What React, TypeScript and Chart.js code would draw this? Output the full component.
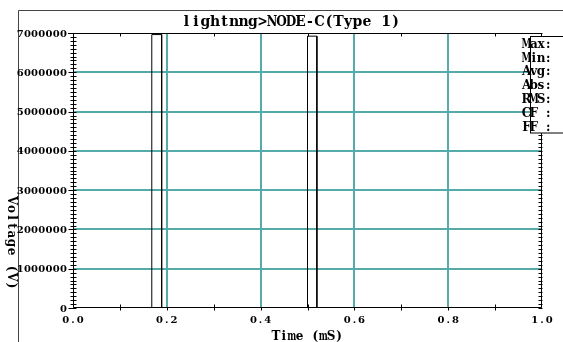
import React, { useEffect, useRef } from "react";
import { Chart, registerables } from "chart.js";

Chart.register(...registerables);

const chartTitle = "lightnng>NODE-C(Type 1)";
const xAxisTitle = "Time (mS)";
const yAxisTitle = "Voltage (V)";
const timeMs = [0, 0.168, 0.168, 0.189, 0.189, 0.5, 0.5, 0.52, 0.52, 1.0];
const voltage = [0, 0, 6960000, 6960000, 0, 0, 6920000, 6920000, 0, 0];
const xTickValues = [0, 0.2, 0.4, 0.6, 0.8, 1.0];
const xTickLabels = ["0.0", "0.2", "0.4", "0.6", "0.8", "1.0"];
const yTickValues = [0, 1000000, 2000000, 3000000, 4000000, 5000000, 6000000, 7000000];
const yTickLabels = ["0", "1000000", "2000000", "3000000", "4000000", "5000000", "6000000", "7000000"];
const statLabels = ["Max:", "Min:", "Avg:", "Abs:", "RMS:", "CF :", "FF :"];

const FONT = '"DejaVu Serif", "Liberation Serif", serif';
const GRID = "#55abaa";

function drawMono(
  ctx: CanvasRenderingContext2D,
  text: string,
  x: number,
  y: number,
  pitch: number,
  align: "left" | "center" | "right",
  maxW: number
) {
  const total = text.length * pitch;
  const start = align === "left" ? x : align === "center" ? x - total / 2 : x - total;
  ctx.textAlign = "center";
  for (let i = 0; i < text.length; i++) {
    const ch = text[i];
    if (ch === " ") continue;
    ctx.fillText(ch, start + pitch * (i + 0.5), y, maxW);
  }
}

const decorPlugin = {
  id: "decor",
  afterDraw(chart: any) {
    const ctx: CanvasRenderingContext2D = chart.ctx;
    const xs = chart.scales.x;
    const ys = chart.scales.y;
    const { left, right, top, bottom } = chart.chartArea;
    ctx.save();
    ctx.strokeStyle = "#000";
    ctx.fillStyle = "#000";
    ctx.lineWidth = 1;

    // outer frame
    ctx.beginPath();
    ctx.moveTo(18.5, 342);
    ctx.lineTo(18.5, 10.5);
    ctx.lineTo(563, 10.5);
    ctx.strokeStyle = "#444";
    ctx.stroke();
    ctx.strokeStyle = "#000";

    // plot border
    const L = Math.round(left) + 0.5;
    const R = Math.round(right) - 0.5;
    const T = Math.round(top) + 0.5;
    const B = Math.round(bottom) - 0.5;
    ctx.beginPath();
    ctx.moveTo(Math.round(left) - 5, T);
    ctx.lineTo(R, T);
    ctx.lineTo(R, B);
    ctx.lineTo(L, B);
    ctx.lineTo(L, T);
    ctx.stroke();

    // y ticks
    ctx.beginPath();
    for (let v = 0; v <= 7000000; v += 100000) {
      const py = Math.round(ys.getPixelForValue(v)) + 0.5;
      const major = v % 1000000 === 0;
      ctx.moveTo(major ? L - 5 : L - 3, py);
      ctx.lineTo(L + 3, py);
      ctx.moveTo(R - 3, py);
      ctx.lineTo(R + 1, py);
    }
    // x ticks
    for (let i = 1; i <= 9; i += 2) {
      const px = Math.round(xs.getPixelForValue(i / 10)) + 0.5;
      ctx.moveTo(px, B - 3);
      ctx.lineTo(px, B + 3);
      ctx.moveTo(px, T);
      ctx.lineTo(px, T + 3);
    }
    for (let i = 1; i < xTickValues.length - 1; i++) {
      const px = Math.round(xs.getPixelForValue(xTickValues[i])) + 0.5;
      ctx.moveTo(px, B);
      ctx.lineTo(px, B + 3);
    }
    ctx.stroke();

    // tick labels
    ctx.font = "bold 10px " + FONT;
    ctx.textBaseline = "alphabetic";
    yTickValues.forEach((v, i) => {
      const py = ys.getPixelForValue(v);
      drawMono(ctx, yTickLabels[i], 67, py + 3.5, 7.2, "right", 7.5);
    });
    xTickValues.forEach((v, i) => {
      const px = xs.getPixelForValue(v);
      drawMono(ctx, xTickLabels[i], px, 322.8, 7.2, "center", 7.5);
    });

    // title
    ctx.font = "bold 14px " + FONT;
    drawMono(ctx, chartTitle, 291, 25.5, 9.5, "center", 10.5);

    // x axis title
    ctx.font = "bold 12px " + FONT;
    drawMono(ctx, xAxisTitle, (left + right) / 2, 340, 7.9, "center", 9);

    // y axis title rotated clockwise
    ctx.save();
    ctx.translate(8, 243);
    ctx.rotate(Math.PI / 2);
    drawMono(ctx, yAxisTitle, 0, 0, 8.5, "center", 9);
    ctx.restore();

    // stats box
    ctx.fillStyle = "#fff";
    ctx.fillRect(530.5, 36.5, 40, 96.5);
    ctx.strokeRect(530.5, 36.5, 40, 96.5);
    ctx.fillStyle = "#000";
    ctx.font = "bold 12px " + FONT;
    statLabels.forEach((s, i) => {
      drawMono(ctx, s, 523, 47.7 + i * 13.8, 7.2, "left", 10);
    });

    ctx.restore();
  },
};

export default function App() {
  const ref = useRef<HTMLCanvasElement | null>(null);
  useEffect(() => {
    if (!ref.current) return;
    const chart = new Chart(ref.current, {
      type: "line",
      data: {
        datasets: [
          {
            data: timeMs.map((t, i) => ({ x: t, y: voltage[i] })),
            borderColor: "#000",
            borderWidth: 1,
            pointRadius: 0,
            tension: 0,
            fill: false,
          },
        ],
      },
      options: {
        responsive: false,
        animation: false,
        events: [],
        layout: { padding: { left: 0, top: 33, right: 21, bottom: 0 } },
        plugins: { legend: { display: false }, title: { display: false }, tooltip: { enabled: false } },
        scales: {
          x: {
            type: "linear",
            min: 0,
            max: 1,
            ticks: { display: false, stepSize: 0.2 },
            border: { display: false },
            grid: {
              drawTicks: false,
              lineWidth: 2,
              color: (c: any) => (c.tick && (c.tick.value <= 0 || c.tick.value >= 1) ? "rgba(0,0,0,0)" : GRID),
            },
            afterFit: (s: any) => {
              s.height = 34;
            },
          },
          y: {
            type: "linear",
            min: 0,
            max: 7000000,
            ticks: { display: false, stepSize: 1000000 },
            border: { display: false },
            grid: {
              drawTicks: false,
              lineWidth: 2,
              color: (c: any) =>
                c.tick && (c.tick.value <= 0 || c.tick.value >= 7000000) ? "rgba(0,0,0,0)" : GRID,
            },
            afterFit: (s: any) => {
              s.width = 73;
            },
          },
        },
      },
      plugins: [decorPlugin],
    } as any);
    return () => chart.destroy();
  }, []);
  return (
    <div style={{ position: "absolute", left: 0, top: 0, width: 563, height: 342, background: "#fff" }}>
      <canvas ref={ref} width={563} height={342} style={{ display: "block" }} />
    </div>
  );
}
